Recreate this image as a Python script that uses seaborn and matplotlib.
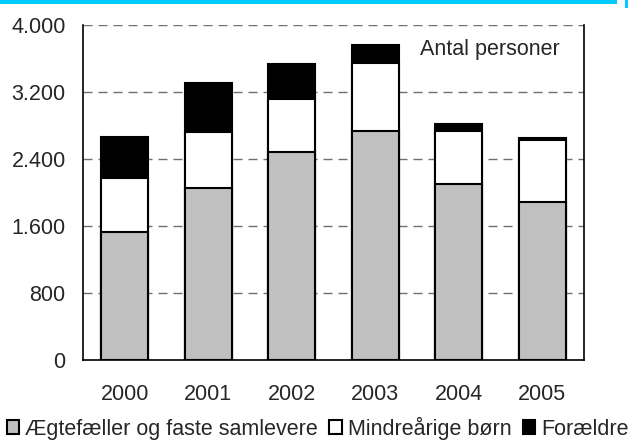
import numpy as np
import pandas as pd
import matplotlib
matplotlib.use("Agg")
import matplotlib.pyplot as plt
from matplotlib.ticker import FuncFormatter, FixedLocator
from matplotlib.patches import Rectangle
import seaborn as sns

years = ["2000", "2001", "2002", "2003", "2004", "2005"]
aegtefaeller = [1530, 2050, 2480, 2740, 2100, 1890]
boern = [645, 670, 635, 805, 635, 735]
foraeldre = [490, 585, 425, 220, 80, 30]

labels = ["Ægtefæller og faste samlevere", "Mindreårige børn", "Forældre"]
colors = ["#C0C0C0", "#FFFFFF", "#000000"]

df = pd.DataFrame({"year": years, "a": aegtefaeller, "b": boern, "c": foraeldre})
df["ab"] = df["a"] + df["b"]
df["abc"] = df["ab"] + df["c"]

sns.set_style("white")
plt.rcParams["font.family"] = ["Liberation Sans", "DejaVu Sans"]
fs = 15.5

fig = plt.figure(figsize=(6.28, 4.40), dpi=100)
ax = fig.add_axes([83 / 628, 1 - 360 / 440, 501 / 628, 335 / 440])

# stacked look: draw totals first, then smaller stacks on top
for col, c in zip(["abc", "ab", "a"], colors[::-1]):
    sns.barplot(data=df, x="year", y=col, color=c, width=0.56,
                edgecolor="black", linewidth=1.5, saturation=1, ax=ax, zorder=3)

ax.set_ylim(0, 4000)
ax.set_xlim(-0.5, 5.5)
ax.set_yticks(np.arange(0, 4001, 800))
ax.yaxis.set_major_formatter(FuncFormatter(lambda v, p: f"{v:,.0f}".replace(",", ".")))
for y in np.arange(800, 4001, 800):
    ax.axhline(y, color="#707070", lw=1, ls=(0, (6.5, 4.3)), zorder=1)

ax.set_xlabel("")
ax.set_ylabel("")
ax.tick_params(axis="x", which="major", length=0, pad=17, labelsize=fs)
ax.xaxis.set_minor_locator(FixedLocator(np.arange(-0.5, 6.0, 1)))
ax.tick_params(axis="x", which="minor", length=4.5, width=1, direction="out", color="black")
ax.tick_params(axis="y", length=4.5, width=1, direction="out", color="black", labelsize=fs, pad=8)
for s in ["left", "bottom", "right"]:
    ax.spines[s].set_color("black")
    ax.spines[s].set_linewidth(1.2)
ax.spines["top"].set_visible(False)

ax.text(0.952, (360 - 55) / 335, "Antal personer", transform=ax.transAxes,
        ha="right", va="baseline", fontsize=fs)

handles = [Rectangle((0, 0), 1, 1, facecolor=c, edgecolor="black", lw=1.5) for c in colors]
fig.legend(handles, labels, loc="center left", bbox_to_anchor=(7 / 628, 1 - 428 / 440),
           ncol=3, frameon=False, fontsize=fs, handlelength=0.56, handleheight=0.56,
           handletextpad=0.29, columnspacing=0.53, borderaxespad=0, borderpad=0)

fig.add_artist(Rectangle((0, 1 - 4 / 440), 617 / 628, 4 / 440, transform=fig.transFigure,
                         facecolor="#00CCFF", edgecolor="none"))
fig.add_artist(Rectangle((625 / 628, 1 - 8 / 440), 3 / 628, 8 / 440, transform=fig.transFigure,
                         facecolor="#00CCFF", edgecolor="none"))

fig.savefig("out.png", dpi=100)
